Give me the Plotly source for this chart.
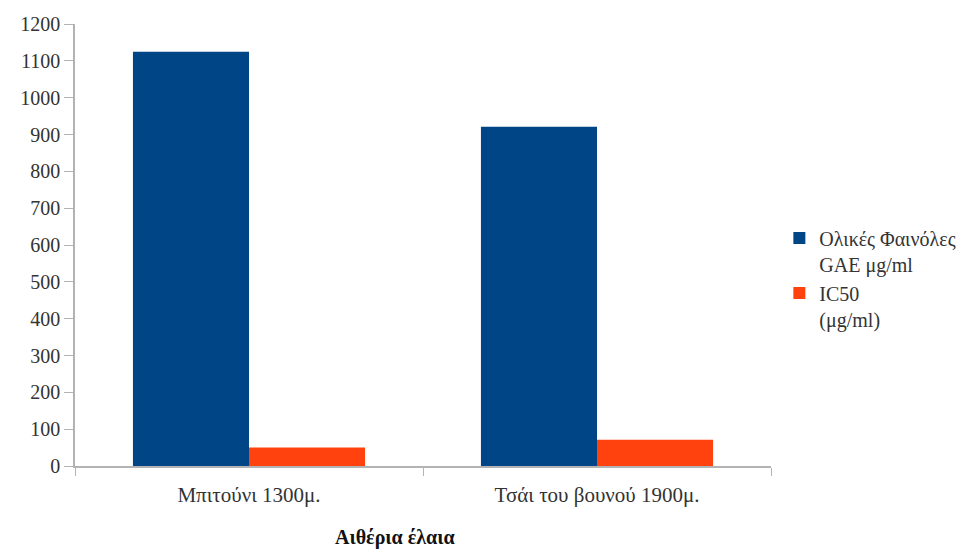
import plotly.graph_objects as go

categories = ["Μπιτούνι 1300μ.", "Τσάι του βουνού 1900μ."]
phenols = [1125, 921]
ic50 = [50, 71]
series_names = ["Ολικές Φαινόλες<br>GAE μg/ml", "IC50<br>(μg/ml)"]
y_ticks = list(range(0, 1201, 100))

font = "'Liberation Serif', 'Times New Roman', 'DejaVu Serif', serif"
fig = go.Figure()
fig.add_trace(go.Bar(x=categories, y=phenols, name=series_names[0],
                     marker=dict(color="#004586", line=dict(width=0))))
fig.add_trace(go.Bar(x=categories, y=ic50, name=series_names[1],
                     marker=dict(color="#ff420e", line=dict(width=0))))

fig.update_layout(
    width=974, height=549,
    margin=dict(l=75, r=203, t=24, b=83),
    paper_bgcolor="white", plot_bgcolor="white",
    barmode="group", bargap=0.333, bargroupgap=0,
    font=dict(family=font, size=20, color="#333333"),
    legend=dict(x=1.012, y=0.56, xanchor="left", yanchor="top",
                valign="top", itemwidth=30,
                font=dict(family=font, size=20, color="#333333"),
                tracegroupgap=9, itemsizing="constant"),
    showlegend=True,
)
fig.update_xaxes(showline=True, linecolor="#b3b3b3", linewidth=1.5,
                 ticks="outside", tickson="boundaries", ticklen=8,
                 tickcolor="#b3b3b3", showgrid=False,
                 ticklabelstandoff=9,
                 tickfont=dict(family=font, size=21, color="#333333"))
fig.update_yaxes(range=[0, 1200], tickvals=y_ticks, showline=True,
                 linecolor="#b3b3b3", linewidth=1.5, ticks="outside",
                 ticklen=9, tickcolor="#b3b3b3", showgrid=False,
                 zeroline=False,
                 tickfont=dict(family=font, size=20, color="#333333"))
fig.add_annotation(text="<b>Αιθέρια έλαια</b>", xref="paper", yref="paper",
                   x=(395 - 75) / 696, y=-0.162, xanchor="center",
                   yanchor="middle", showarrow=False,
                   font=dict(family=font, size=20, color="#111111"))
fig.write_html("out.html")
